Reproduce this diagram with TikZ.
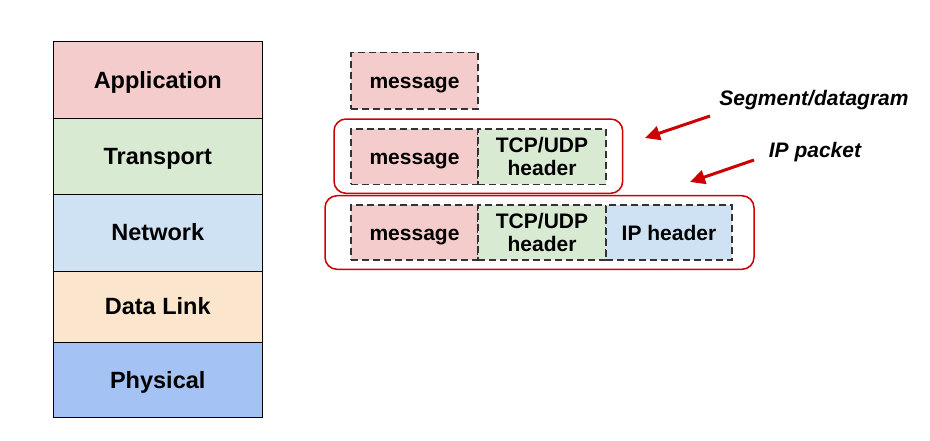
\documentclass[tikz,border=0pt]{standalone}
\usepackage{fontspec}
\setmainfont{Liberation Sans}
\usetikzlibrary{arrows.meta}
\definecolor{cApp}{HTML}{F4CCCC}
\definecolor{cTra}{HTML}{D9EAD3}
\definecolor{cNet}{HTML}{CFE2F3}
\definecolor{cDat}{HTML}{FCE5CD}
\definecolor{cPhy}{HTML}{A4C2F4}
\definecolor{cRed}{HTML}{CC0000}
\definecolor{cDash}{HTML}{333333}
\tikzset{
  layer/.style={draw=black, line width=1pt, minimum width=208.5pt, inner sep=0pt,
    text height=17pt, text depth=1pt,
    font=\fontsize{23.5}{28}\selectfont\bfseries},
  dbox/.style={draw=cDash, line width=1.5pt, dash pattern=on 7pt off 4pt, inner sep=0pt,
    minimum height=55.3pt, align=center, font=\fontsize{21}{23}\selectfont\bfseries},
  onel/.style={text height=15pt, text depth=0pt},
  redbox/.style={draw=cRed, line width=1.5pt, rounded corners=12pt, inner sep=0pt},
  lbl/.style={font=\fontsize{21}{25}\selectfont\bfseries\itshape, inner sep=0pt},
  redarrow/.style={draw=cRed, line width=3pt, -{Triangle[length=15pt,width=14pt]}}
}
\begin{document}
\begin{tikzpicture}[x=1pt,y=-1pt]
\useasboundingbox (0,0) rectangle (930,440);
% stack
\node[layer, fill=cApp, minimum height=76.6pt] (app) at (157.75,80) {Application};
\node[layer, fill=cTra, minimum height=76pt] (tra) at (157.75,156.3) {Transport};
\node[layer, fill=cNet, minimum height=76.7pt] (net) at (157.75,232.65) {Network};
\node[layer, fill=cDat, minimum height=71.3pt] (dat) at (157.75,306.65) {Data Link};
\node[layer, fill=cPhy, minimum height=75.4pt] (phy) at (157.75,380) {Physical};
% red grouping boxes
\node[redbox, minimum width=288.7pt, minimum height=74.3pt] (seg) at (478.35,156.15) {};
\node[redbox, minimum width=429pt, minimum height=73.6pt] (pkt) at (539.5,232.5) {};
% dashed boxes
\node[dbox, onel, fill=cApp, minimum width=127pt, minimum height=56.7pt] (m1) at (414.5,80.65) {message};
\node[dbox, onel, fill=cApp, minimum width=127pt] (m2) at (414.5,156.65) {message};
\node[dbox, fill=cTra, minimum width=128pt] (t2) at (542,156.65) {TCP/UDP\\header};
\node[dbox, onel, fill=cApp, minimum width=127pt] (m3) at (414.5,232.5) {message};
\node[dbox, fill=cTra, minimum width=128pt] (t3) at (542,232.5) {TCP/UDP\\header};
\node[dbox, onel, fill=cNet, minimum width=126pt] (ip3) at (669,232.5) {IP header};
% labels
\node[lbl] (lseg) at (814,100) {Segment/datagram};
\node[lbl] (lip) at (815,152) {IP packet};
% arrows
\coordinate (a1s) at (710,116);
\coordinate (a1e) at (645,138);
\coordinate (a2s) at (754,160);
\coordinate (a2e) at (690,182);
\draw[redarrow] (a1s) -- (a1e);
\draw[redarrow] (a2s) -- (a2e);
\end{tikzpicture}
\end{document}
